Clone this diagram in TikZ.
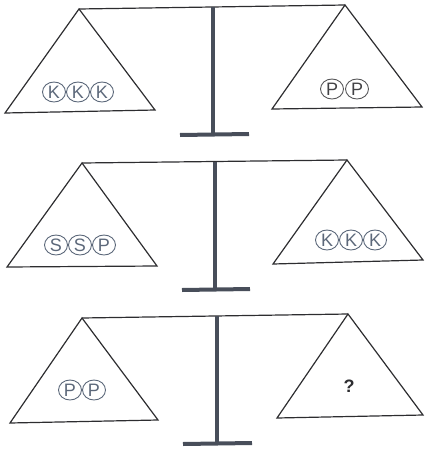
\documentclass[tikz,border=0pt]{standalone}
\usepackage{fontspec}
\setmainfont{Liberation Sans}
\usetikzlibrary{shapes.geometric}
\definecolor{postc}{RGB}{72,78,90}
\definecolor{coinc}{RGB}{92,104,122}
\definecolor{linec}{RGB}{45,45,48}
\begin{document}
\begin{tikzpicture}[x=1pt,y=-1pt,
  pan/.style={draw=linec,line width=1.2pt,line join=miter},
  beam/.style={draw=linec,line width=1.2pt},
  post/.style={draw=postc,line width=4pt},
  coin/.style={ellipse,draw=coinc,line width=0.9pt,inner sep=0pt,minimum width=23pt,minimum height=20pt,text=coinc,font=\fontsize{18}{18}\selectfont},
  pcoin/.style={coin,draw=linec!80,text=linec!90},
  q/.style={font=\bfseries\fontsize{18}{18}\selectfont,text=linec}]
\useasboundingbox (0,0) rectangle (425,450);
% ---------- scale 1
\coordinate (la1) at (79,9); \coordinate (ra1) at (345,5);
\coordinate (lb1) at (5,113); \coordinate (lc1) at (155,110);
\coordinate (rb1) at (272,109); \coordinate (rc1) at (422,107);
\coordinate (pt1) at (213,7); \coordinate (pb1) at (213,134);
\coordinate (fl1) at (180,135); \coordinate (fr1) at (249,134);
\draw[beam] (la1) -- (ra1);
\draw[pan] (la1) -- (lb1) -- (lc1) -- cycle;
\draw[pan] (ra1) -- (rb1) -- (rc1) -- cycle;
\draw[post] (pt1) -- (pb1);
\draw[post] (fl1) -- (fr1);
\node[coin] (k11) at (54,92) {K};
\node[coin] (k12) at (78,92) {K};
\node[coin] (k13) at (102,92) {K};
\node[pcoin] (p11) at (332,89) {P};
\node[pcoin] (p12) at (357,89) {P};
% ---------- scale 2
\coordinate (la2) at (82,163); \coordinate (ra2) at (347,160);
\coordinate (lb2) at (7,267); \coordinate (lc2) at (157,266);
\coordinate (rb2) at (273,264); \coordinate (rc2) at (423,260);
\coordinate (pt2) at (215,162); \coordinate (pb2) at (215,289);
\coordinate (fl2) at (182,290); \coordinate (fr2) at (250,289);
\draw[beam] (la2) -- (ra2);
\draw[pan] (la2) -- (lb2) -- (lc2) -- cycle;
\draw[pan] (ra2) -- (rb2) -- (rc2) -- cycle;
\draw[post] (pt2) -- (pb2);
\draw[post] (fl2) -- (fr2);
\node[coin] (s21) at (56,245) {S};
\node[coin] (s22) at (80,245) {S};
\node[coin] (p21) at (104,245) {P};
\node[coin] (k21) at (327,240) {K};
\node[coin] (k22) at (351,240) {K};
\node[coin] (k23) at (375,240) {K};
% ---------- scale 3
\coordinate (la3) at (82,318); \coordinate (ra3) at (348,314);
\coordinate (lb3) at (10,423); \coordinate (lc3) at (158,420);
\coordinate (rb3) at (277,418); \coordinate (rc3) at (423,415);
\coordinate (pt3) at (217,316); \coordinate (pb3) at (217,443);
\coordinate (fl3) at (183,444); \coordinate (fr3) at (252,443);
\draw[beam] (la3) -- (ra3);
\draw[pan] (la3) -- (lb3) -- (lc3) -- cycle;
\draw[pan] (ra3) -- (rb3) -- (rc3) -- cycle;
\draw[post] (pt3) -- (pb3);
\draw[post] (fl3) -- (fr3);
\node[coin] (p31) at (70,390) {P};
\node[coin] (p32) at (94,390) {P};
\node[q] (qm) at (349,386) {?};
\end{tikzpicture}
\end{document}
